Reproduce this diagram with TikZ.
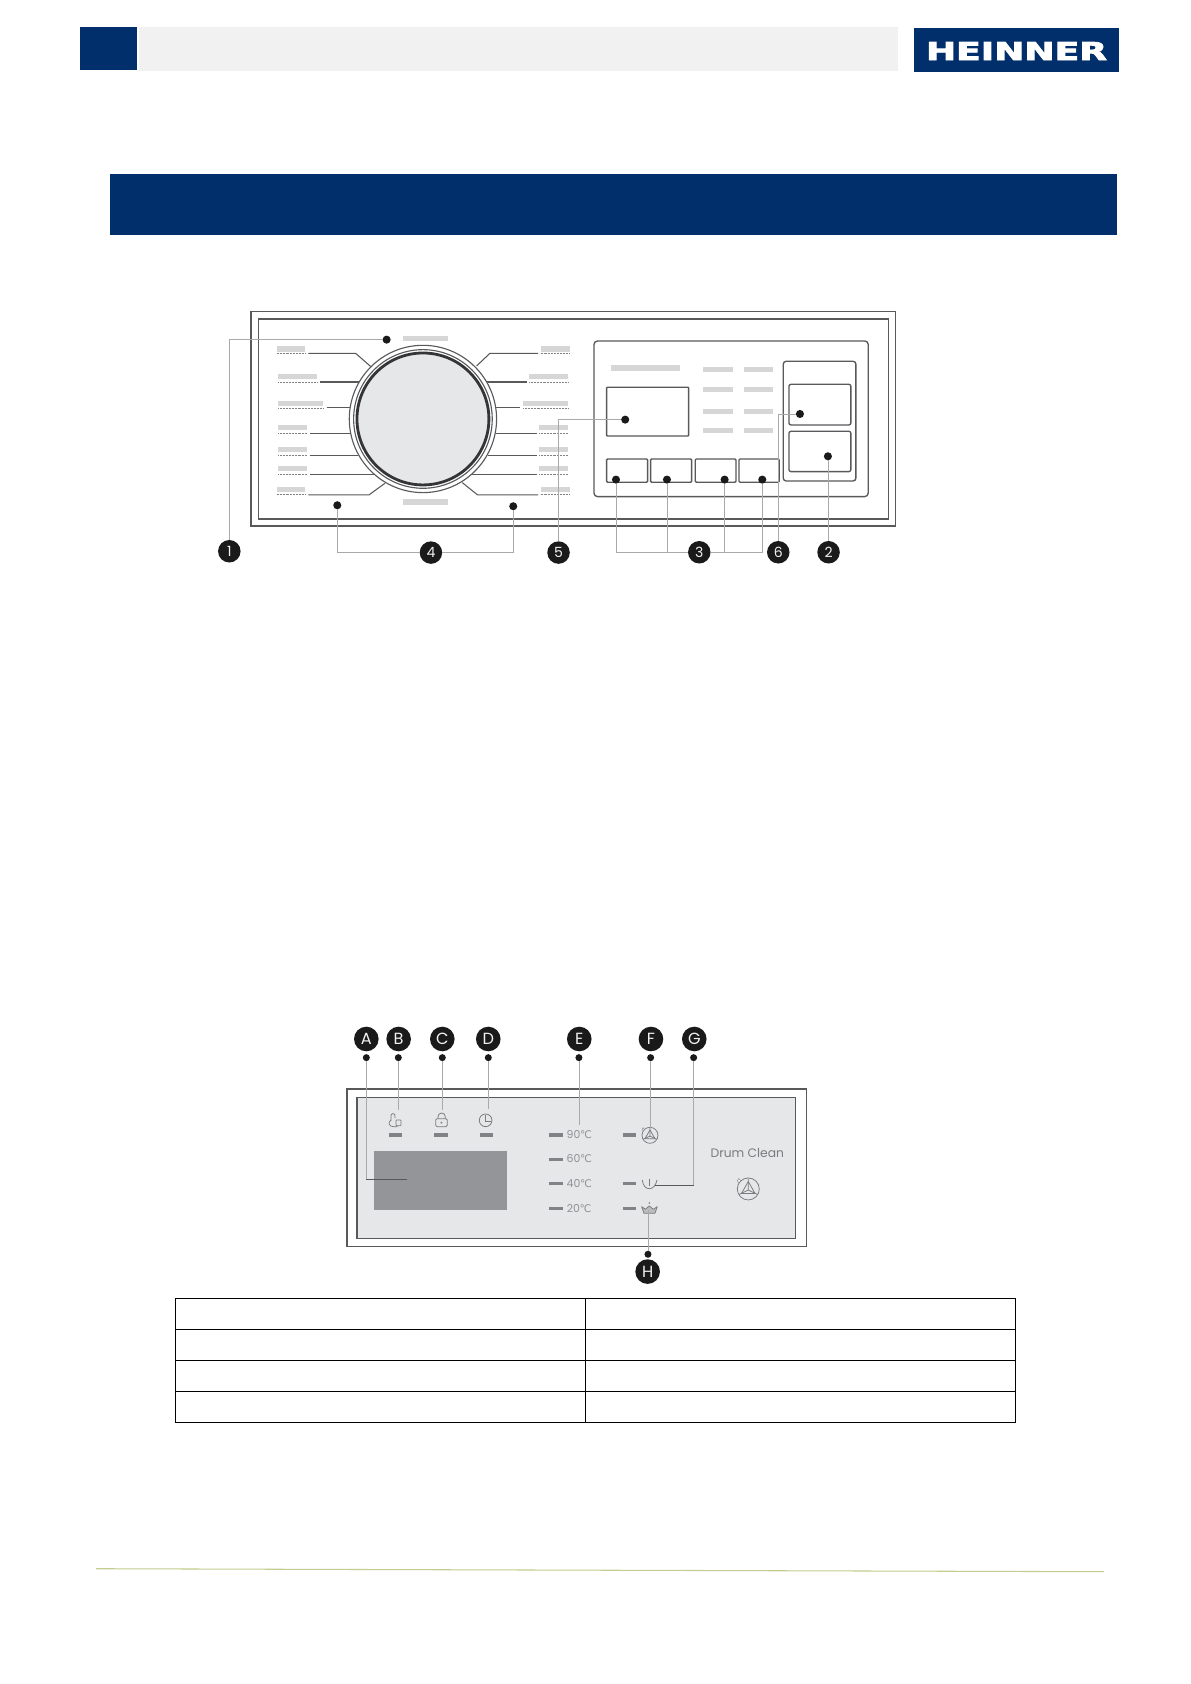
\documentclass[tikz,border=0pt]{standalone}
\usepackage{fontspec}
\usepackage{graphicx}
\setmainfont{Poppins}
\newfontfamily\symfont{DejaVu Sans}
\newfontfamily\logofont[UprightFont=* Bold,FakeBold=3]{DejaVu Sans}
\newcommand{\degC}{{\kern-0.5pt\symfont\fontsize{15}{15}\selectfont ℃}}
\definecolor{navy}{HTML}{002F6B}
\definecolor{lightbar}{HTML}{F1F1F1}
\definecolor{labelbar}{HTML}{D6D6D6}
\definecolor{panelline}{HTML}{58595B}
\definecolor{connline}{HTML}{A9A9A9}
\definecolor{connstrong}{HTML}{58595B}
\definecolor{panelfill}{HTML}{E6E7E8}
\definecolor{screenfill}{HTML}{939598}
\definecolor{tempgray}{HTML}{8F9194}
\definecolor{tickgray}{HTML}{808285}
\definecolor{badgefill}{HTML}{1A1A1A}
\definecolor{footerline}{HTML}{C6CC90}
\tikzset{
  panelbox/.style={draw=panelline,line width=1.9pt},
  leader/.style={draw=panelline,line width=1.5pt},
  labelpatch/.style={fill=labelbar},
  dashrule/.style={draw=tickgray,line width=1.3pt,dash pattern=on 1.4pt off 0.7pt},
  conn/.style={draw=connline,line width=1.1pt},
  connd/.style={draw=connstrong,line width=1.5pt},
  dotmark/.style={circle,fill=badgefill,inner sep=0pt,minimum size=11.5pt},
  badge/.style={circle,fill=badgefill,text=lightbar,inner sep=0pt,minimum size=32pt,font=\fontsize{20}{20}\selectfont},
  badgebig/.style={badge,minimum size=35pt,font=\fontsize{23}{23}\selectfont},
  templabel/.style={text=tempgray,inner sep=0pt,font=\fontsize{15.5}{15.5}\selectfont},
  tick/.style={draw=tickgray,line width=5pt},
  icon/.style={draw=tempgray!85!black,line width=1.1pt},
  drumicon/.pic={
    \draw[icon] (0,0) circle (1);
    \draw[icon,line join=round] (-0.62,0.42) -- (0,-0.68) -- (0.62,0.42) -- cycle;
    \draw[icon] (0,0.1) -- (0,-0.95) (0,0.1) -- (-0.85,0.5) (0,0.1) -- (0.85,0.5);
    \fill[white,draw=tempgray!85!black,line width=0.6pt] (-1,-0.75) -- (-0.85,-0.95) -- (-0.7,-0.75) -- (-0.85,-0.55) -- cycle;
  }
}
\begin{document}
\begin{tikzpicture}[x=0.05cm,y=-0.05cm]
\useasboundingbox (0,0) rectangle (1191,1684);
\fill[white] (0,0) rectangle (1191,1684);
% header
\fill[navy] (80,27) rectangle (137,70);
\fill[lightbar] (139,27) rectangle (898,71);
\fill[navy] (914,28) rectangle (1119,72);
\node[text=white,inner sep=0pt] (logo) at (1016.5,51) {\resizebox{9.05cm}{0.9cm}{\logofont HEINNER}};
\fill[navy] (110,174) rectangle (1117,235);
% footer
\draw[footerline,line width=1.5pt] (96,1568.7) -- (1104,1571.7);
% table
\draw[black,line width=1.3pt] (175.5,1298.5) rectangle (1015,1422.5);
\draw[black,line width=1.3pt] (175.5,1329.5) -- (1015,1329.5) (175.5,1360.5) -- (1015,1360.5) (175.5,1391.5) -- (1015,1391.5) (585.5,1298.5) -- (585.5,1422.5);

% ===== first panel: left part (crop coordinates)
\begin{scope}[shift={(200,290)},x=0.016667cm,y=-0.016667cm]
  \draw[panelbox] (153,65) rectangle (2088,708);
  \draw[panelbox] (176,87) rectangle (2067,687);
  % leaders
  \draw[leader] (325,190) -- (467,190) -- (515,232);
  \draw[leader] (360,276) -- (480,276);
  \draw[leader] (380,354) -- (455,354);
  \draw[leader] (330,431) -- (455,431);
  \draw[leader] (330,496) -- (475,496);
  \draw[leader] (330,553) -- (525,553);
  \draw[leader] (325,615) -- (507,615) -- (555,580);
  \draw[leader] (1015,190) -- (870,190) -- (830,228);
  \draw[leader] (980,276) -- (860,276);
  \draw[leader] (960,354) -- (888,354);
  \draw[leader] (1012,431) -- (888,431);
  \draw[leader] (1012,496) -- (865,496);
  \draw[leader] (1012,553) -- (815,553);
  \draw[leader] (1015,615) -- (833,615) -- (787,578);
  % dial
  \fill[white] (669,387) circle (222);
  \draw[panelline,line width=1.6pt] (669,387) circle (221);
  \draw[panelline,line width=1.6pt] (669,387) circle (208);
  \fill[panelfill] (669,387) circle (196);
  \draw[panelline!60!black,line width=4pt] (669,387) circle (198);
  % label patches
  \foreach \xa/\xb/\ya/\yb/\yd in {230/316/168/186/191,235/352/252/268/276,235/369/332/347/354,235/320/406/421/431,235/320/471/487/496,235/320/528/544/553,230/316/590/605/613,1022/1109/168/186/191,988/1105/252/268/276,970/1105/332/347/354,1018/1105/406/421/431,1018/1105/471/487/496,1018/1105/528/544/553,1022/1109/590/605/613}{
    \fill[labelpatch] (\xa,\ya) rectangle (\xb,\yb);
    \draw[dashrule] (\xa,\yd) -- (\xb,\yd);
  }
  \fill[labelpatch] (608,138) rectangle (744,154);
  \fill[labelpatch] (608,628) rectangle (743,645);
  % markers
  \node[dotmark] (d1) at (560,149) {};
  \node[dotmark] (d4a) at (412,646) {};
  \node[dotmark] (d4b) at (940,649) {};
  \node[dotmark] (d5) at (1276,389) {};
  \node[badge] (b1) at (88,784) {1};
  \node[badge] (b4) at (693,788) {4};
  \node[badge] (b5) at (1076,788) {5};
\end{scope}

% ===== first panel: right part (crop coordinates)
\begin{scope}[shift={(540,290)},x=0.016667cm,y=-0.016667cm]
  \draw[panelbox,rounded corners=5pt] (162,153) rectangle (985,620);
  \fill[labelpatch] (212,226) rectangle (420,242);
  \draw[panelbox,rounded corners=1pt] (200,292) rectangle (446,438);
  \foreach \ya in {231,292,357,414}{
    \fill[labelpatch] (490,\ya) rectangle (578,\ya+15);
    \fill[labelpatch] (612,\ya) rectangle (698,\ya+15);
  }
  \foreach \xa/\xb in {200/323,332/455,466/588,597/718}{
    \draw[panelbox,rounded corners=1.5pt] (\xa,507) rectangle (\xb,577);
  }
  \draw[panelbox,rounded corners=4pt] (730,214) rectangle (948,573);
  \draw[panelbox,rounded corners=3pt] (747,283) rectangle (933,405);
  \draw[panelbox,rounded corners=3pt] (747,424) rectangle (933,545);
  \node[dotmark] (d3a) at (228,569) {};
  \node[dotmark] (d3b) at (381,569) {};
  \node[dotmark] (d3c) at (554,569) {};
  \node[dotmark] (d3d) at (667,569) {};
  \node[dotmark] (d6) at (780,372) {};
  \node[dotmark] (d2) at (864,499) {};
  \node[badge] (b3) at (478,787) {3};
  \node[badge] (b6) at (715,787) {6};
  \node[badge] (b2) at (866,787) {2};
\end{scope}
% connectors of first panel
\draw[conn] (d1) -| (b1);
\draw[conn] (d4a) |- (b4);
\draw[conn] (d4b) |- (b4);
\draw[conn] (d5) -| (b5);
\draw[conn] (d3a) |- (b3);
\draw[conn] (d3d) |- (b3);
\draw[conn] (d3b) -- (d3b |- b3);
\draw[conn] (d3c) -- (d3c |- b3);
\draw[conn] (d6) -| (b6);
\draw[conn] (d2) -- (d2 |- b2.north);

% ===== second panel: left part
\begin{scope}[shift={(330,1010)},x=0.016667cm,y=-0.016667cm]
  \draw[panelbox,line width=1.7pt] (51,237) rectangle (1430,710);
  \draw[panelbox,line width=1.7pt,fill=panelfill] (81,263) rectangle (1398,685);
  \fill[screenfill] (133,422) rectangle (532,600);
  \foreach \xa in {177,313,449}{\draw[tick] (\xa,375) -- (\xa+40,375);}
  \foreach \ya in {375,448,521,595}{\draw[tick] (658,\ya) -- (698,\ya);}
  % hand with lock
  \draw[icon] (183,332) -- (183,317) arc(180:360:6) -- (195,325);
  \draw[icon] (183,330) .. controls (172,338) and (178,350) .. (190,350) -- (203,350);
  \draw[icon,rounded corners=1pt] (198,330) rectangle (213,347);
  % lock
  \draw[icon,rounded corners=2pt] (317,326) rectangle (352,350);
  \draw[icon] (324,326) -- (324,320) arc(180:360:11) -- (346,326);
  \fill[tempgray] (334.5,338) circle (3.5);
  % clock
  \draw[icon] (467,331) circle (19);
  \draw[icon] (467,316) -- (467,333) -- (484,333);
  % temperature labels
  \node[templabel] (t90) at (748,373) {90\degC};
  \node[templabel] (t60) at (748,446) {60\degC};
  \node[templabel] (t40) at (748,520) {40\degC};
  \node[templabel] (t20) at (748,597) {20\degC};
  % markers
  \node[dotmark,minimum size=10pt] (dA) at (109,143) {};
  \node[dotmark,minimum size=10pt] (dB) at (205,143) {};
  \node[dotmark,minimum size=10pt] (dC) at (337,143) {};
  \node[dotmark,minimum size=10pt] (dD) at (475,143) {};
  \node[dotmark,minimum size=10pt] (dE) at (747,143) {};
  \node[badgebig] (bA) at (109,87) {A};
  \node[badgebig] (bB) at (206,87) {B};
  \node[badgebig] (bC) at (337,87) {C};
  \node[badgebig] (bD) at (475,87) {D};
  \node[badgebig] (bE) at (748,87) {E};
  \coordinate (cA) at (109,508);
  \coordinate (eA) at (230,508);
  \coordinate (eB) at (205,300);
  \coordinate (eC) at (337,300);
  \coordinate (eD) at (475,298);
  \coordinate (eE) at (747,345);
\end{scope}

% ===== second panel: right part
\begin{scope}[shift={(540,1010)},x=0.016667cm,y=-0.016667cm]
  \foreach \ya in {375,521,595}{\draw[tick] (248,\ya) -- (287,\ya);}
  \pic[scale=24] at (330,376) {drumicon};
  % tub
  \draw[icon] (307,510) .. controls (310,545) and (345,545) .. (351,510);
  \draw[icon,line width=1.4pt] (328,506) -- (328,528);
  % crown
  \draw[icon,fill=tempgray!60,line join=round] (305,590) -- (316,598) -- (328,588) -- (340,598) -- (352,590) -- (345,610) -- (312,610) -- cycle;
  \fill[tempgray] (328,579) circle (3);
  \node[text=tempgray!85!black,inner sep=0pt,font=\fontsize{17.5}{17.5}\selectfont] (drumtext) at (622,430) {Drum Clean};
  \pic[scale=33] at (625,537) {drumicon};
  \node[dotmark,minimum size=10pt] (dF) at (332,143) {};
  \node[dotmark,minimum size=10pt] (dG) at (461,143) {};
  \node[dotmark,minimum size=10pt] (dH) at (324,733) {};
  \node[badgebig] (bF) at (333,87) {F};
  \node[badgebig] (bG) at (463,87) {G};
  \node[badgebig] (bH) at (323,785) {H};
  \coordinate (eF) at (332,355);
  \coordinate (cG) at (461,528);
  \coordinate (eG) at (345,528);
  \coordinate (eH) at (324,600);
\end{scope}
% connectors of second panel
\draw[conn] (dA) -- (cA);
\draw[connd] (cA) -- (eA);
\draw[conn] (dB) -- (eB);
\draw[conn] (dC) -- (eC);
\draw[conn] (dD) -- (eD);
\draw[conn] (dE) -- (eE);
\draw[conn] (dF) -- (eF);
\draw[conn] (dG) -- (cG);
\draw[connd] (cG) -- (eG);
\draw[conn] (dH) -- (eH);
\end{tikzpicture}
\end{document}
